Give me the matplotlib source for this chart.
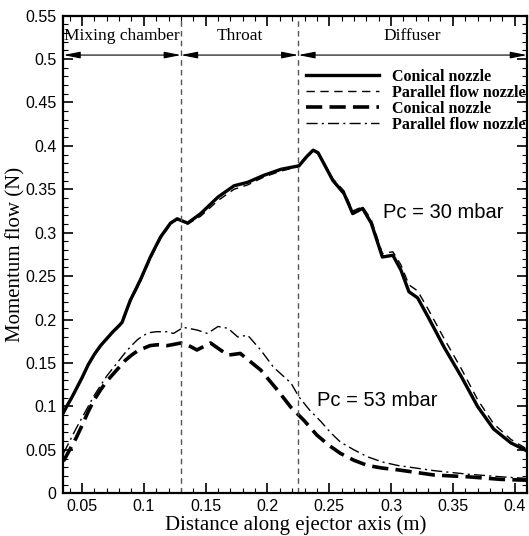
import numpy as np
import matplotlib
matplotlib.use("Agg")
import matplotlib.pyplot as plt
from matplotlib.ticker import MultipleLocator

SERIF = "Liberation Serif"
SANS = "Liberation Sans"

# Pc = 30 mbar, conical nozzle (thick solid)
x_con30 = [0.035, 0.038, 0.042, 0.046, 0.050, 0.055, 0.060, 0.065, 0.070, 0.075,
           0.080, 0.0825, 0.084, 0.089, 0.097, 0.1053, 0.1135, 0.1216, 0.127, 0.132,
           0.1355, 0.146, 0.16, 0.173, 0.184, 0.197, 0.211, 0.2255, 0.232, 0.237,
           0.241, 0.247, 0.253, 0.262, 0.269, 0.277, 0.284, 0.293, 0.3015, 0.308,
           0.3145, 0.3215, 0.330, 0.343, 0.357, 0.370, 0.383, 0.397, 0.411]
y_con30 = [0.093, 0.101, 0.111, 0.122, 0.133, 0.148, 0.160, 0.170, 0.178, 0.186,
           0.193, 0.197, 0.203, 0.222, 0.245, 0.272, 0.295, 0.311, 0.316, 0.313,
           0.311, 0.322, 0.341, 0.354, 0.358, 0.366, 0.373, 0.377, 0.388, 0.395,
           0.392, 0.376, 0.360, 0.345, 0.322, 0.328, 0.311, 0.272, 0.274, 0.257,
           0.232, 0.225, 0.203, 0.168, 0.134, 0.100, 0.074, 0.058, 0.048]

# Pc = 30 mbar, parallel flow nozzle (thin dashed)
x_par30 = x_con30
y_par30 = [0.093, 0.102, 0.112, 0.123, 0.133, 0.147, 0.159, 0.169, 0.177, 0.185,
           0.192, 0.196, 0.201, 0.220, 0.243, 0.270, 0.293, 0.310, 0.315, 0.313,
           0.310, 0.319, 0.337, 0.350, 0.355, 0.364, 0.371, 0.376, 0.387, 0.394,
           0.391, 0.377, 0.362, 0.348, 0.325, 0.330, 0.315, 0.276, 0.278, 0.263,
           0.240, 0.233, 0.212, 0.178, 0.143, 0.108, 0.080, 0.062, 0.050]

# Pc = 53 mbar, conical nozzle (thick dashed)
x_con53 = [0.035, 0.040, 0.045, 0.050, 0.055, 0.060, 0.065, 0.070, 0.075, 0.080,
           0.085, 0.090, 0.095, 0.100, 0.105, 0.111, 0.119, 0.13, 0.135, 0.143,
           0.154, 0.168, 0.178, 0.1945, 0.208, 0.219, 0.2295, 0.240, 0.250, 0.259,
           0.270, 0.281, 0.293, 0.3055, 0.335, 0.362, 0.389, 0.411]
y_con53 = [0.037, 0.050, 0.063, 0.078, 0.094, 0.108, 0.119, 0.129, 0.137, 0.145,
           0.153, 0.159, 0.164, 0.167, 0.170, 0.171, 0.170, 0.173, 0.171, 0.165,
           0.173, 0.159, 0.161, 0.142, 0.119, 0.099, 0.084, 0.067, 0.055, 0.046,
           0.038, 0.032, 0.029, 0.027, 0.021, 0.019, 0.016, 0.015]

# Pc = 53 mbar, parallel flow nozzle (thin dash-dot)
x_par53 = [0.035, 0.040, 0.045, 0.050, 0.055, 0.060, 0.065, 0.070, 0.075, 0.080,
           0.085, 0.090, 0.095, 0.100, 0.105, 0.110, 0.119, 0.124, 0.132, 0.143,
           0.1515, 0.16, 0.168, 0.176, 0.184, 0.1945, 0.205, 0.219, 0.2255, 0.234,
           0.243, 0.251, 0.259, 0.270, 0.281, 0.293, 0.3055, 0.335, 0.362, 0.389, 0.411]
y_par53 = [0.046, 0.060, 0.074, 0.087, 0.100, 0.113, 0.124, 0.135, 0.144, 0.153,
           0.162, 0.170, 0.177, 0.182, 0.185, 0.186, 0.186, 0.184, 0.191, 0.188,
           0.184, 0.192, 0.190, 0.180, 0.182, 0.165, 0.145, 0.127, 0.111, 0.096,
           0.083, 0.070, 0.059, 0.050, 0.042, 0.036, 0.032, 0.026, 0.022, 0.019, 0.017]

sections = ["Mixing chamber", "Throat", "Diffuser"]
section_bounds = [0.035, 0.13, 0.225, 0.41]
labels = ["Conical nozzle", "Parallel flow nozzle", "Conical nozzle", "Parallel flow nozzle"]

fig = plt.figure(figsize=(5.29, 5.36), dpi=100)
ax = fig.add_axes([0.12, 0.0797, 0.8762, 0.8913])

ax.plot(x_con30, y_con30, color="black", lw=2.4, solid_joinstyle="round", label=labels[0])
ax.plot(x_par30, y_par30, color="black", lw=1.0, dashes=(6, 4), label=labels[1])
ax.plot(x_con53, y_con53, color="black", lw=2.6, dashes=(4.5, 2), label=labels[2])
ax.plot(x_par53, y_par53, color="black", lw=1.0, dashes=(8, 3, 1.5, 3), label=labels[3])

for b in section_bounds[1:3]:
    ax.axvline(b, color="#555555", lw=1.0, dashes=(4, 3))

for i, name in enumerate(sections):
    x0, x1 = section_bounds[i], section_bounds[i + 1]
    ax.annotate("", xy=(x1, 0.5045), xytext=(x0, 0.5045),
                arrowprops=dict(arrowstyle="<|-|>,head_length=1.0,head_width=0.2",
                                color="black", lw=0.8, shrinkA=0, shrinkB=0))
    ax.text((x0 + x1) / 2, 0.526, name, ha="center", va="center",
            fontfamily=SERIF, fontsize=12.5)

ax.text(0.2935, 0.323, "Pc = 30 mbar", fontfamily=SANS, fontsize=14.5, va="center")
ax.text(0.240, 0.107, "Pc = 53 mbar", fontfamily=SANS, fontsize=14.5, va="center")

leg = ax.legend(loc="upper left", bbox_to_anchor=(0.231, 0.489),
                bbox_transform=ax.transData, frameon=False, borderpad=0,
                borderaxespad=0, handlelength=4.6, handletextpad=0.8,
                labelspacing=0.0, prop=dict(family=SERIF, weight="bold", size=11.5))

ax.set_xlim(0.035, 0.41)
ax.set_ylim(0, 0.55)
ax.xaxis.set_major_locator(MultipleLocator(0.05))
ax.xaxis.set_minor_locator(MultipleLocator(0.01))
ax.yaxis.set_major_locator(MultipleLocator(0.05))
ax.yaxis.set_minor_locator(MultipleLocator(0.01))
ax.xaxis.set_major_formatter(plt.FuncFormatter(lambda v, p: f"{v:g}"))
ax.yaxis.set_major_formatter(plt.FuncFormatter(lambda v, p: f"{v:g}"))

ax.tick_params(which="both", direction="in", top=True, right=True, width=1.2)
ax.tick_params(which="major", length=7, labelsize=11.5)
ax.tick_params(axis="x", which="major", pad=4)
ax.tick_params(axis="y", which="major", pad=5)
ax.tick_params(which="minor", length=3.5, width=0.8)
for lab in ax.get_xticklabels() + ax.get_yticklabels():
    lab.set_fontfamily(SANS)
for sp in ax.spines.values():
    sp.set_linewidth(1.6)

ax.set_xlabel("Distance along ejector axis (m)", fontfamily=SERIF, fontsize=15)
ax.set_ylabel("Momentum flow (N)", fontfamily=SERIF, fontsize=15)
ax.xaxis.set_label_coords(0.5, -0.047)
ax.yaxis.set_label_coords(-0.083, 0.5)

fig.savefig("out.png", dpi=100)
